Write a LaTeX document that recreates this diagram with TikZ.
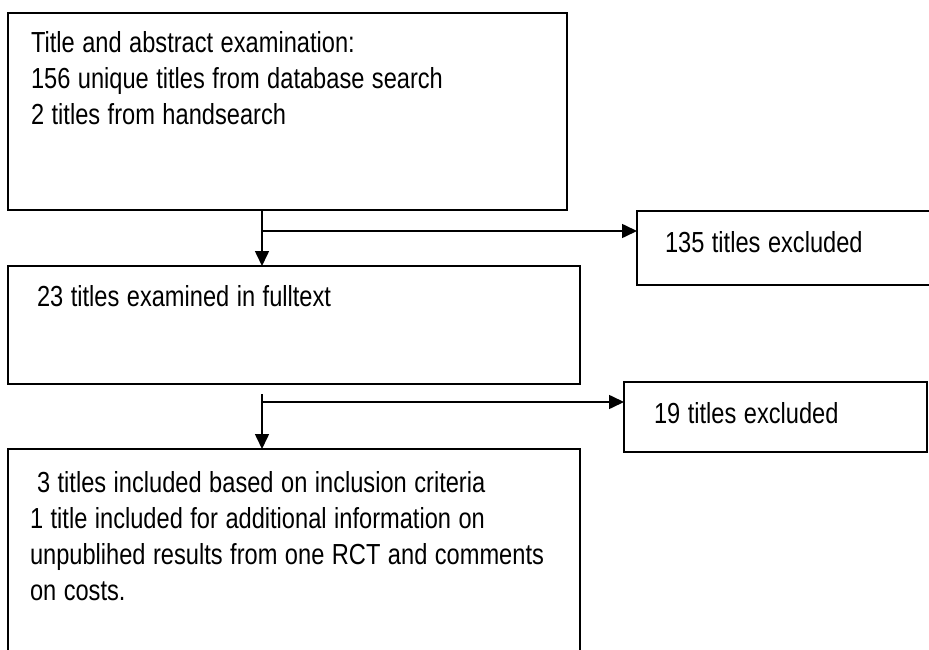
\documentclass[tikz,border=0pt]{standalone}
\usepackage{fontspec}
\setmainfont{Liberation Sans}[FakeStretch=0.815]
\usetikzlibrary{arrows.meta}
\newcommand\mytxtfont{\fontsize{29}{36}\selectfont}
\begin{document}
\begin{tikzpicture}[x=1pt,y=-1pt,
  box/.style={draw=black,line width=1.6pt,rectangle,anchor=north west,inner sep=0pt,outer sep=0pt},
  txt/.style={anchor=base west,inner sep=0pt,outer sep=0pt,align=left,text width=560pt,
    font=\mytxtfont,execute at begin node={\spaceskip=7.5pt\relax}},
  arr/.style={line width=1.6pt,-{Triangle[length=15pt,width=14pt]}}]
\useasboundingbox (0,0) rectangle (929,650);
\clip (0,0) rectangle (929,650);
% boxes
\node[box,minimum width=559pt,minimum height=197pt] (b1) at (8,13) {};
\node[box,minimum width=572pt,minimum height=118pt] (b2) at (8,266) {};
\node[box,minimum width=300pt,minimum height=74pt] (b3) at (637,211) {};
\node[box,minimum width=303pt,minimum height=70pt] (b5) at (624,382) {};
\node[box,minimum width=572pt,minimum height=230pt] (b4) at (8,449) {};
% texts
\node[txt] (t1) at (31,53) {Title and abstract examination:\\156 unique titles from database search\\2 titles from handsearch};
\node[txt] (t2) at (37,306) {23 titles examined in fulltext};
\node[txt,text width=260pt] (t3) at (665,252) {135 titles excluded};
\node[txt,text width=260pt] (t5) at (654,423) {19 titles excluded};
\node[txt] (t4a) at (37,492) {3 titles included based on inclusion criteria};
\node[txt] (t4) at (30,528) {1 title included for additional information on\\unpublihed results from one RCT and comments\\on costs.};
% connectors
\coordinate (j1) at (262,231);
\coordinate (s2) at (262,394);
\coordinate (j2) at (262,402);
\draw[arr] (b1.south -| j1) -- (b2.north -| j1);
\draw[arr] (j1) -- (b3.west |- j1);
\draw[arr] (s2) -- (b4.north -| s2);
\draw[arr] (j2) -- (b5.west |- j2);
\end{tikzpicture}
\end{document}
